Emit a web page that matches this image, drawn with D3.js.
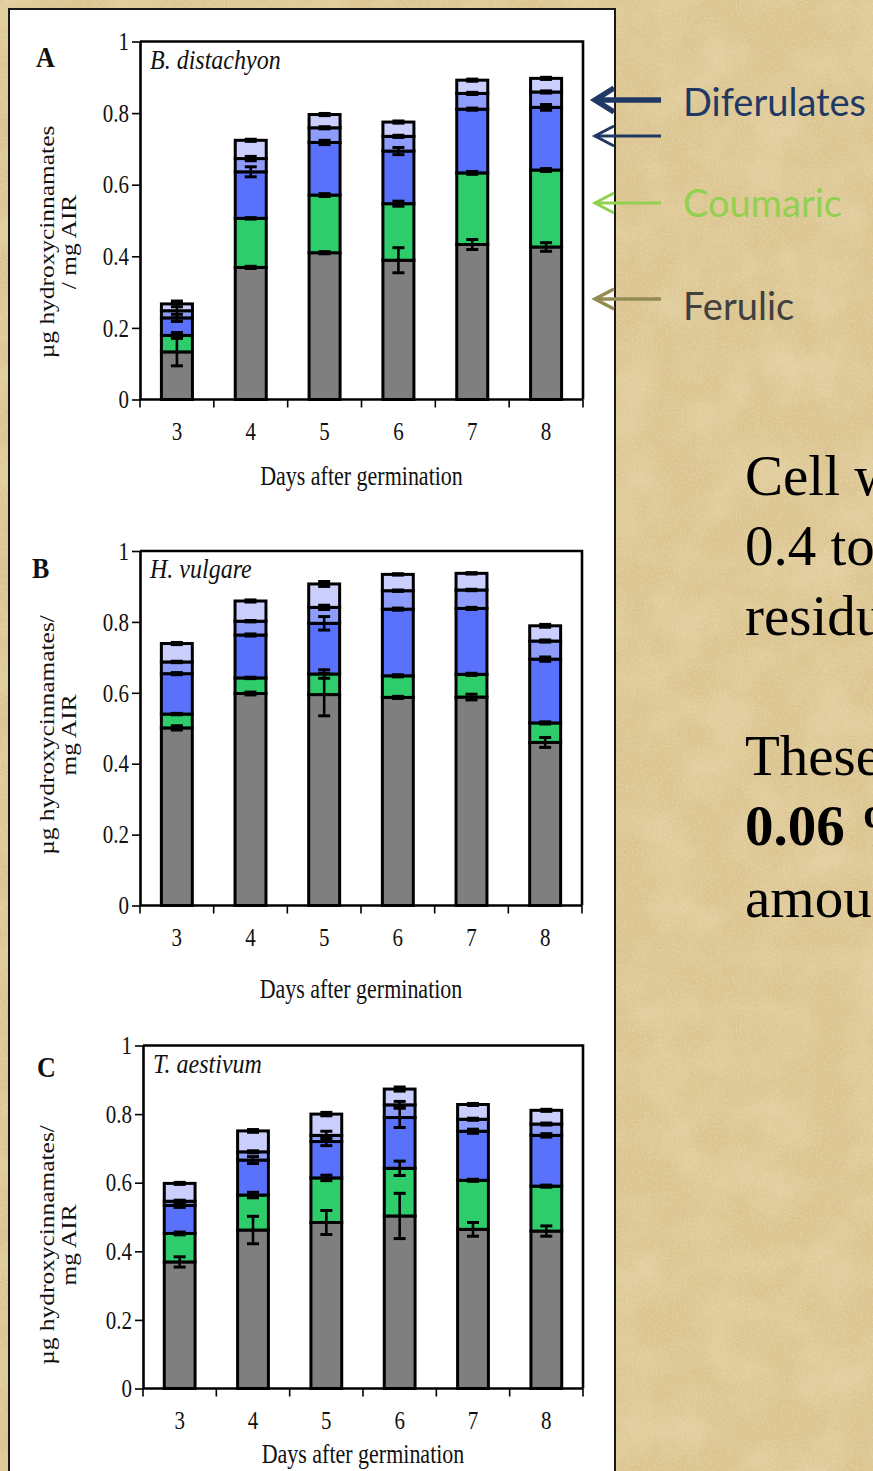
<!DOCTYPE html>
<html><head><meta charset="utf-8">
<script src="https://cdn.jsdelivr.net/npm/d3@7"></script>
<style>html,body{margin:0;padding:0;overflow:hidden;background:#d8c18b}</style>
</head><body><svg id="c" width="873" height="1471"></svg>
<script>
// ---------- DATA ----------
const days = ["3", "4", "5", "6", "7", "8"];
const seriesKeys = ["Ferulic", "Coumaric", "DFA1", "DFA2", "DFA3"];
const seriesColors = ["#7f7f7f", "#2ecc6b", "#5a71fb", "#8e9dfb", "#cbcffd"];
const yTickValues = [0, 0.2, 0.4, 0.6, 0.8, 1];
const yTickLabels = ["0", "0.2", "0.4", "0.6", "0.8", "1"];
const xTitle = "Days after germination";

// Panel A – B. distachyon (segment amounts, µg/mg AIR)
const distachyonFerulic  = [0.133, 0.369, 0.410, 0.389, 0.433, 0.426];
const distachyonCoumaric = [0.046, 0.137, 0.161, 0.158, 0.200, 0.215];
const distachyonDFA1     = [0.049, 0.130, 0.147, 0.147, 0.178, 0.175];
const distachyonDFA2     = [0.020, 0.037, 0.041, 0.041, 0.044, 0.043];
const distachyonDFA3     = [0.019, 0.051, 0.037, 0.040, 0.037, 0.038];
const distachyonErrFerulic  = [0.039, 0.003, 0.003, 0.035, 0.014, 0.012];
const distachyonErrCoumaric = [0.008, 0.002, 0.004, 0.007, 0.004, 0.004];
const distachyonErrDFA1     = [0.010, 0.014, 0.006, 0.010, 0.003, 0.008];
const distachyonErrDFA2     = [0.020, 0.006, 0.003, 0.003, 0.003, 0.003];
const distachyonErrDFA3     = [0.008, 0.003, 0.003, 0.003, 0.003, 0.003];

// Panel B – H. vulgare
const vulgareFerulic  = [0.501, 0.598, 0.595, 0.587, 0.588, 0.460];
const vulgareCoumaric = [0.039, 0.044, 0.058, 0.061, 0.064, 0.055];
const vulgareDFA1     = [0.114, 0.121, 0.143, 0.188, 0.186, 0.180];
const vulgareDFA2     = [0.033, 0.039, 0.045, 0.052, 0.052, 0.051];
const vulgareDFA3     = [0.052, 0.057, 0.066, 0.046, 0.047, 0.043];
const vulgareErrFerulic  = [0.006, 0.004, 0.060, 0.003, 0.008, 0.014];
const vulgareErrCoumaric = [0.002, 0.002, 0.012, 0.003, 0.003, 0.003];
const vulgareErrDFA1     = [0.003, 0.003, 0.019, 0.003, 0.003, 0.006];
const vulgareErrDFA2     = [0.002, 0.002, 0.006, 0.002, 0.002, 0.003];
const vulgareErrDFA3     = [0.003, 0.003, 0.007, 0.002, 0.002, 0.004];

// Panel C – T. aestivum
const aestivumFerulic  = [0.369, 0.462, 0.484, 0.503, 0.464, 0.459];
const aestivumCoumaric = [0.083, 0.102, 0.130, 0.139, 0.143, 0.131];
const aestivumDFA1     = [0.082, 0.102, 0.106, 0.148, 0.143, 0.148];
const aestivumDFA2     = [0.012, 0.024, 0.018, 0.037, 0.035, 0.033];
const aestivumDFA3     = [0.052, 0.061, 0.062, 0.046, 0.043, 0.040];
const aestivumErrFerulic  = [0.015, 0.040, 0.035, 0.066, 0.020, 0.015];
const aestivumErrCoumaric = [0.004, 0.008, 0.008, 0.021, 0.003, 0.003];
const aestivumErrDFA1     = [0.006, 0.010, 0.012, 0.029, 0.006, 0.005];
const aestivumErrDFA2     = [0.003, 0.003, 0.012, 0.010, 0.003, 0.003];
const aestivumErrDFA3     = [0.003, 0.004, 0.005, 0.006, 0.003, 0.003];

// Legend / side text (as visible in the reference, cut at the window edge)
const legendLabels = ["Diferulates", "Coumaric", "Ferulic"];
const sideLines = ["Cell w", "0.4 to", "residu", "", "These", "0.06 %", "amou"];

// ---------- LAYOUT ----------
const panels = [
  { letter: "A", species: "B. distachyon", yTitle: ["µg  hydroxycinnamates", "/ mg AIR"],
    values: [distachyonFerulic, distachyonCoumaric, distachyonDFA1, distachyonDFA2, distachyonDFA3],
    errors: [distachyonErrFerulic, distachyonErrCoumaric, distachyonErrDFA1, distachyonErrDFA2, distachyonErrDFA3],
    x0: 140, x1: 583, yTop: 41.5, y0: 399.5, letterPos: [36, 67], titleY: 485, yTitleCY: 242 },
  { letter: "B", species: "H. vulgare", yTitle: ["µg hydroxycinnamates/", "mg AIR"],
    values: [vulgareFerulic, vulgareCoumaric, vulgareDFA1, vulgareDFA2, vulgareDFA3],
    errors: [vulgareErrFerulic, vulgareErrCoumaric, vulgareErrDFA1, vulgareErrDFA2, vulgareErrDFA3],
    x0: 140, x1: 582, yTop: 551, y0: 905.5, letterPos: [32, 578], titleY: 998, yTitleCY: 735 },
  { letter: "C", species: "T. aestivum", yTitle: ["µg hydroxycinnamates/", "mg AIR"],
    values: [aestivumFerulic, aestivumCoumaric, aestivumDFA1, aestivumDFA2, aestivumDFA3],
    errors: [aestivumErrFerulic, aestivumErrCoumaric, aestivumErrDFA1, aestivumErrDFA2, aestivumErrDFA3],
    x0: 143, x1: 583, yTop: 1045.5, y0: 1388.5, letterPos: [37, 1077], titleY: 1463, yTitleCY: 1245 }
];

const serif = "'Liberation Serif','Times New Roman',serif";
const SY = 1.15; // vertical stretch of the figure's lettering
const svg = d3.select("#c");
const W = 873, H = 1471;

// ---------- BACKGROUND (parchment) ----------
const defs = svg.append("defs");
const f = defs.append("filter").attr("id", "paper").attr("x", 0).attr("y", 0).attr("width", "100%").attr("height", "100%");
f.append("feTurbulence").attr("type", "fractalNoise").attr("baseFrequency", 0.02).attr("numOctaves", 3).attr("seed", 11).attr("result", "n");
f.append("feColorMatrix").attr("in", "n").attr("type", "matrix")
  .attr("values", "0 0 0 0 0.94  0 0 0 0 0.86  0 0 0 0 0.66  1.2 0 0 0 -0.45");
const f2 = defs.append("filter").attr("id", "paper2").attr("x", 0).attr("y", 0).attr("width", "100%").attr("height", "100%");
f2.append("feTurbulence").attr("type", "fractalNoise").attr("baseFrequency", 0.45).attr("numOctaves", 2).attr("seed", 3).attr("result", "n");
f2.append("feColorMatrix").attr("in", "n").attr("type", "matrix")
  .attr("values", "0 0 0 0 0.74  0 0 0 0 0.60  0 0 0 0 0.36  0 0 0 1.3 -0.5");
const f3 = defs.append("filter").attr("id", "paper3").attr("x", 0).attr("y", 0).attr("width", "100%").attr("height", "100%");
f3.append("feTurbulence").attr("type", "fractalNoise").attr("baseFrequency", 0.5).attr("numOctaves", 2).attr("seed", 21).attr("result", "n");
f3.append("feColorMatrix").attr("in", "n").attr("type", "matrix")
  .attr("values", "0 0 0 0 0.95  0 0 0 0 0.88  0 0 0 0 0.70  0 0 0 1.3 -0.55");
svg.append("rect").attr("width", W).attr("height", H).attr("fill", "#dbc48e");
svg.append("rect").attr("width", W).attr("height", H).attr("filter", "url(#paper)").attr("opacity", 0.45);
svg.append("rect").attr("width", W).attr("height", H).attr("filter", "url(#paper2)").attr("opacity", 0.55);
svg.append("rect").attr("width", W).attr("height", H).attr("filter", "url(#paper3)").attr("opacity", 0.5);

// White figure box
svg.append("rect").attr("x", 9).attr("y", 9).attr("width", 606).attr("height", H + 20)
  .attr("fill", "#ffffff").attr("stroke", "#1a1a1a").attr("stroke-width", 2);

// ---------- PANELS ----------
panels.forEach(p => {
  const g = svg.append("g");
  const x = d3.scaleBand().domain(days).range([p.x0, p.x1]).paddingInner(0.58).paddingOuter(0.29);
  const y = d3.scaleLinear().domain([0, 1]).range([p.y0, p.yTop]);

  const rows = days.map((d, i) => {
    const r = { day: d };
    seriesKeys.forEach((k, s) => r[k] = p.values[s][i]);
    return r;
  });
  const stacked = d3.stack().keys(seriesKeys)(rows);

  // bars
  stacked.forEach((layer, s) => {
    g.append("g").selectAll("rect").data(layer).join("rect")
      .attr("x", d => x(d.data.day))
      .attr("width", x.bandwidth())
      .attr("y", d => y(d[1]))
      .attr("height", d => y(d[0]) - y(d[1]))
      .attr("fill", seriesColors[s])
      .attr("stroke", "#000").attr("stroke-width", 3);
  });

  // error bars
  const eg = g.append("g").attr("stroke", "#000");
  stacked.forEach((layer, s) => {
    layer.forEach((d, i) => {
      const cx = x(d.data.day) + x.bandwidth() / 2;
      const e = p.errors[s][i];
      const yt = y(d[1] + e), yb = y(d[1] - e);
      eg.append("line").attr("x1", cx).attr("x2", cx).attr("y1", yt).attr("y2", yb).attr("stroke-width", 2.6);
      [yt, yb].forEach(yy => eg.append("line").attr("x1", cx - 6).attr("x2", cx + 6)
        .attr("y1", yy).attr("y2", yy).attr("stroke-width", 3));
    });
  });

  // frame top + right
  g.append("path").attr("d", `M${p.x0},${y(1)}H${p.x1}V${p.y0}`).attr("fill", "none")
    .attr("stroke", "#000").attr("stroke-width", 2.6);

  // y axis
  const ya = g.append("g").attr("transform", `translate(${p.x0},0)`)
    .call(d3.axisLeft(y).tickValues(yTickValues).tickFormat((d, i) => yTickLabels[i]).tickSize(8).tickSizeOuter(0).tickPadding(3));
  ya.select(".domain").attr("stroke-width", 2.6);
  ya.selectAll(".tick line").attr("stroke-width", 1.6);
  ya.selectAll("text").attr("font-family", serif).attr("font-size", 21).attr("fill", "#111")
    .attr("dy", "0.34em").attr("transform", `scale(1,${SY})`);

  // x axis: band labels + boundary ticks
  const xa = g.append("g").attr("transform", `translate(0,${p.y0})`)
    .call(d3.axisBottom(x).tickSize(0).tickSizeOuter(0));
  xa.select(".domain").attr("stroke-width", 2.6).attr("d", `M${p.x0},0H${p.x1}`);
  xa.selectAll("text").attr("font-family", serif).attr("font-size", 21).attr("fill", "#111")
    .attr("y", 41 / SY).attr("dy", 0).attr("transform", `scale(1,${SY})`);
  const bounds = days.map(d => x(d) - x.step() * x.paddingInner() / 2).concat([p.x1]);
  xa.selectAll(".bt").data(bounds).join("line").attr("class", "bt")
    .attr("x1", d => d).attr("x2", d => d).attr("y1", 0).attr("y2", 8)
    .attr("stroke", "#000").attr("stroke-width", 1.6);

  // x title
  g.append("text").attr("transform", `translate(${(p.x0 + p.x1) / 2},${p.titleY}) scale(1,${SY + 0.05})`)
    .attr("text-anchor", "middle")
    .attr("font-family", serif).attr("font-size", 22).attr("fill", "#111").text(xTitle);

  // species label
  g.append("text").attr("transform", `translate(${p.x0 + 10},${p.yTop + 27}) scale(1,${SY})`)
    .attr("font-family", serif).attr("font-style", "italic").attr("font-size", 24).attr("fill", "#111").text(p.species);

  // panel letter
  g.append("text").attr("transform", `translate(${p.letterPos[0]},${p.letterPos[1]}) scale(1,${SY})`)
    .attr("font-family", serif).attr("font-weight", "bold").attr("font-size", 26).attr("fill", "#111").text(p.letter);

  // y title (two lines, rotated)
  p.yTitle.forEach((t, k) => {
    g.append("text").attr("transform", `translate(${47 + k * 22},${p.yTitleCY}) rotate(-90) scale(1.27,1)`)
      .attr("text-anchor", "middle").attr("dy", "0.35em")
      .attr("font-family", serif).attr("font-size", 20).attr("fill", "#111").text(t);
  });
});

// ---------- SIDE ARROWS & LABELS ----------
const arrows = [
  { y: 100, color: "#1f3864", w: 5.5 },
  { y: 136, color: "#1f3864", w: 3 },
  { y: 203, color: "#92d050", w: 3 },
  { y: 299, color: "#948a54", w: 3.5 }
];
const ag = svg.append("g").attr("fill", "none").attr("stroke-linecap", "butt");
arrows.forEach(a => {
  ag.append("path").attr("d", `M661,${a.y}H595`).attr("stroke", a.color).attr("stroke-width", a.w);
  const hw = a.w > 4 ? 12 : 10;
  ag.append("path").attr("d", `M${614},${a.y - hw}L${595},${a.y}L${614},${a.y + hw}`)
    .attr("stroke", a.color).attr("stroke-width", a.w);
});
const legendStyle = [
  { y: 116, color: "#1f3864" },
  { y: 217, color: "#92d050" },
  { y: 320, color: "#404040" }
];
legendLabels.forEach((t, i) => {
  svg.append("text").attr("x", 683).attr("y", legendStyle[i].y).attr("fill", legendStyle[i].color)
    .attr("font-family", "Lato, 'Open Sans', sans-serif").attr("font-size", 38).text(t);
});

// Side body text (cut at the window edge, as in the reference)
const sideBase = [495, 565, 635, 705, 775, 845, 917];
sideLines.forEach((t, i) => {
  if (!t) return;
  svg.append("text").attr("x", 745).attr("y", sideBase[i])
    .attr("font-family", serif).attr("font-size", 57).attr("fill", "#000")
    .attr("font-weight", i === 5 ? "bold" : "normal").text(t);
});
</script></body></html>
